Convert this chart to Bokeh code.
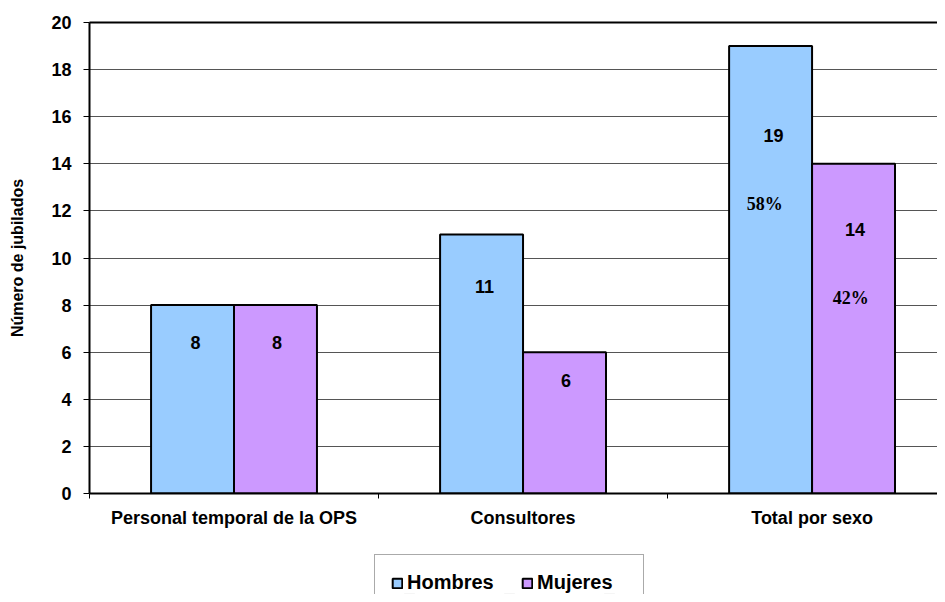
from bokeh.plotting import figure
from bokeh.layouts import column
from bokeh.models import (ColumnDataSource, Range1d, FixedTicker, LinearAxis, Legend, LegendItem)
from bokeh.transform import dodge
from bokeh.core.properties import value
from bokeh.embed import file_html
from bokeh.resources import INLINE

categories = ["Personal temporal de la OPS", "Consultores", "Total por sexo"]
hombres = [8, 11, 19]
mujeres = [8, 6, 14]
series_names = ["Hombres", "Mujeres"]
y_ticks = [0, 2, 4, 6, 8, 10, 12, 14, 16, 18, 20]

colors = ["#99CCFF", "#CC99FF"]
FONT = "Liberation Sans"

x_pos = [i + 0.5 for i in range(len(categories))]
src = ColumnDataSource(dict(
    x=x_pos, cat=categories, h=hombres, m=mujeres,
    h_lab=[str(v) for v in hombres], m_lab=[str(v) for v in mujeres],
    h_ly=[v * 0.8 for v in hombres], m_ly=[v * 0.8 for v in mujeres],
))

W = 937
p = figure(width=W, height=530, output_backend="svg", toolbar_location=None,
           x_range=Range1d(0, 2.934), y_range=Range1d(0, 20),
           min_border_left=89, min_border_top=22, min_border_right=0,
           min_border_bottom=34)
p.outline_line_color = None
p.xgrid.grid_line_color = None
p.ygrid.grid_line_color = "#555555"
p.ygrid.grid_line_width = 1
p.ygrid.ticker = FixedTicker(ticks=y_ticks)

bw = 0.287
off = bw / 2
rh = p.vbar(x=dodge("x", -off), top="h", width=bw, source=src,
            fill_color=colors[0], line_color="black", line_width=2)
rm = p.vbar(x=dodge("x", off), top="m", width=bw, source=src,
            fill_color=colors[1], line_color="black", line_width=2)

lab_kw = dict(text_font=value(FONT), text_font_style="bold", text_font_size="18px",
              text_align="center", text_baseline="middle", text_color="black")
p.text(x=dodge("x", -off + 0.01), y="h_ly", text="h_lab", source=src, **lab_kw)
p.text(x=dodge("x", off + 0.005), y="m_ly", text="m_lab", source=src, **lab_kw)

# percentages on the total group
tot = hombres[-1] + mujeres[-1]
pct_src = ColumnDataSource(dict(
    x=[x_pos[-1] - off - 0.02, x_pos[-1] + off - 0.01],
    y=[hombres[-1] * 0.8, mujeres[-1] * 0.8],
    t=[f"{round(100 * hombres[-1] / tot)}%", f"{round(100 * mujeres[-1] / tot)}%"],
))
p.text(x="x", y="y", text="t", source=pct_src, y_offset=68,
       text_font=value("Liberation Serif"), text_font_style="bold", text_font_size="18px",
       text_align="center", text_baseline="middle", text_color="black")

# x axis: labels at centers, ticks at boundaries
xa = p.xaxis[0]
xa.ticker = FixedTicker(ticks=x_pos, minor_ticks=[0, 1, 2, 3])
xa.major_label_overrides = {x: c for x, c in zip(x_pos, categories)}
xa.major_tick_line_color = None
xa.major_tick_out = 0
xa.major_tick_in = 0
xa.minor_tick_out = 5
xa.minor_tick_in = 0
xa.minor_tick_line_color = "black"
xa.axis_line_color = "black"
xa.axis_line_width = 2
xa.major_label_text_font = FONT
xa.major_label_text_font_style = "bold"
xa.major_label_text_font_size = "18px"
xa.major_label_text_color = "black"
xa.major_label_standoff = 9

ya = p.yaxis[0]
ya.ticker = FixedTicker(ticks=y_ticks)
ya.major_tick_out = 6
ya.major_tick_in = 0
ya.minor_tick_line_color = None
ya.axis_line_color = "black"
ya.axis_line_width = 2
ya.major_tick_line_color = "black"
ya.major_label_text_font = FONT
ya.major_label_text_font_style = "bold"
ya.major_label_text_font_size = "18px"
ya.major_label_text_color = "black"
ya.major_label_standoff = 12
ya.axis_label = "Número de jubilados"
ya.axis_label_text_font = FONT
ya.axis_label_text_font_style = "bold"
ya.axis_label_text_font_size = "16px"
ya.axis_label_text_color = "black"
ya.axis_label_standoff = 22

top_ax = LinearAxis(ticker=FixedTicker(ticks=[]), axis_line_color="black", axis_line_width=2,
                    major_label_text_font_size="0px", major_tick_line_color=None,
                    minor_tick_line_color=None)
p.add_layout(top_ax, "above")

# legend strip below the chart (bars of the same data, kept out of view,
# positioned so any clipped edge falls behind the legend box)
lp = figure(width=W, height=64, output_backend="svg", toolbar_location=None,
            x_range=Range1d(-2.7, 5.78), y_range=Range1d(100, 101),
            x_axis_location=None, y_axis_location=None, min_border=0)
lp.outline_line_color = None
lp.grid.visible = False
lh = lp.vbar(x="x", top="h", width=0.1, source=src, fill_color=colors[0],
             line_color="black", line_width=2)
lm = lp.vbar(x="x", top="m", width=0.1, source=src, fill_color=colors[1],
             line_color="black", line_width=2)
legend = Legend(items=[LegendItem(label=series_names[0], renderers=[lh]),
                       LegendItem(label=series_names[1], renderers=[lm])],
                orientation="horizontal", location=(285, -17),
                label_text_font=FONT, label_text_font_style="bold",
                label_text_font_size="20px", label_text_color="black",
                glyph_width=12, glyph_height=12, label_standoff=4, spacing=24,
                label_width=90, padding=16, margin=0,
                border_line_color="#555555", border_line_width=1,
                background_fill_color="white")
lp.add_layout(legend, "center")

open("out.html", "w").write(file_html(column(p, lp, spacing=0), INLINE))
